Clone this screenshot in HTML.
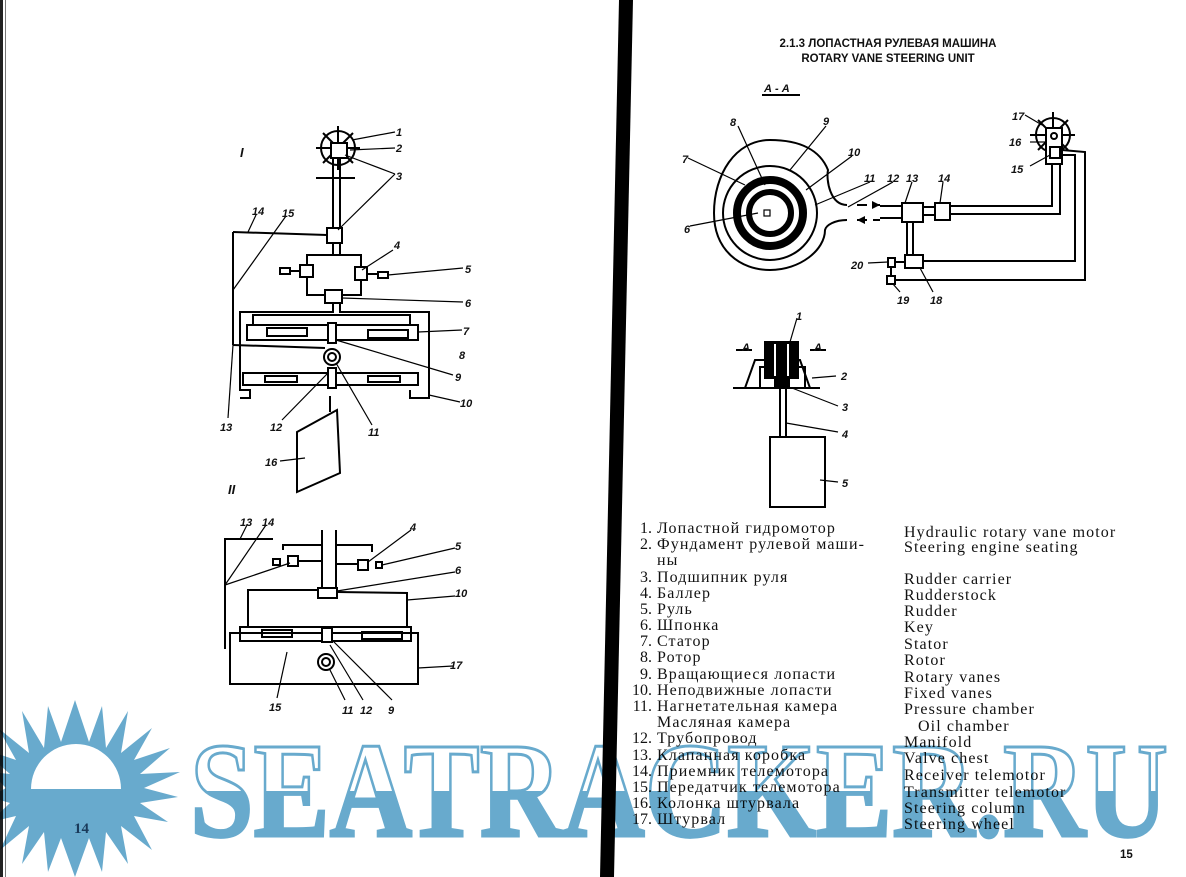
<!DOCTYPE html>
<html><head><meta charset="utf-8"><style>
html,body{margin:0;padding:0;background:#fff;}
svg{display:block}
.l{font-family:"Liberation Sans",sans-serif;font-style:italic;font-weight:bold;font-size:11px;fill:#111}
.t{font-family:"Liberation Serif","Noto Serif CJK SC",serif;font-size:16px;letter-spacing:1.1px;fill:#111}
.h{font-family:"Liberation Sans",sans-serif;font-weight:bold;font-size:11.5px;fill:#111}
.wm{mix-blend-mode:multiply}
</style></head><body>
<svg width="1186" height="877" viewBox="0 0 1186 877" xmlns="http://www.w3.org/2000/svg">
<defs>
<linearGradient id="wm" x1="0" y1="0" x2="0" y2="1">
<stop offset="0" stop-color="#fff"/><stop offset="0.5" stop-color="#fff"/><stop offset="0.5" stop-color="#68aacd"/><stop offset="1" stop-color="#68aacd"/>
</linearGradient>
</defs>
<rect width="1186" height="877" fill="#fff"/>
<!-- left scan edge -->
<rect x="0" y="0" width="3" height="877" fill="#222"/>
<rect x="5" y="0" width="1" height="877" fill="#777"/>
<!-- spine -->
<polygon points="619,0 633,0 614,877 600,877" fill="#000"/>

<g stroke="#000" stroke-width="2" fill="none">
<!-- Diagram I -->
<circle cx="338" cy="148" r="17"/>
<line x1="338" y1="126" x2="338" y2="170"/><line x1="316" y1="148" x2="360" y2="148"/>
<line x1="323" y1="133" x2="353" y2="163"/><line x1="353" y1="133" x2="323" y2="163"/>
<rect x="331" y="143" width="16" height="15" fill="#fff"/>
<line x1="333" y1="158" x2="333" y2="228"/><line x1="340" y1="158" x2="340" y2="228"/>
<line x1="316" y1="178" x2="355" y2="178"/>
<rect x="327" y="228" width="15" height="15"/>
<line x1="333" y1="243" x2="333" y2="255"/><line x1="340" y1="243" x2="340" y2="255"/>
<rect x="307" y="255" width="54" height="40"/>
<rect x="300" y="265" width="13" height="12" fill="#fff"/><rect x="280" y="268" width="10" height="6"/>
<line x1="290" y1="271" x2="300" y2="271"/>
<rect x="355" y="267" width="12" height="13" fill="#fff"/><rect x="378" y="272" width="10" height="6"/>
<line x1="367" y1="274" x2="378" y2="274"/>
<rect x="325" y="290" width="17" height="13" fill="#fff"/>
<line x1="233" y1="232" x2="327" y2="235"/><line x1="233" y1="232" x2="233" y2="345"/>
<line x1="233" y1="345" x2="325" y2="348"/>
<polyline points="333,303 333,312 240,312 240,390 250,390 250,398 240,398"/>
<polyline points="340,303 340,312 429,312 429,398 410,398 410,390"/>
<polyline points="253,325 253,315 410,315 410,325"/>
<rect x="247" y="325" width="171" height="15"/>
<rect x="267" y="328" width="40" height="8"/><rect x="368" y="330" width="40" height="8"/>
<rect x="328" y="323" width="8" height="20" fill="#fff"/>
<circle cx="332" cy="357" r="8"/><circle cx="332" cy="357" r="4"/>
<rect x="243" y="373" width="175" height="12"/>
<rect x="265" y="376" width="32" height="6"/><rect x="368" y="376" width="32" height="6"/>
<rect x="328" y="368" width="8" height="20" fill="#fff"/>
<polygon points="297,432 337,410 340,473 297,492"/>
<line x1="330" y1="396" x2="330" y2="412"/>
<g stroke-width="1.2">
<line x1="352" y1="140" x2="395" y2="132"/><line x1="350" y1="150" x2="395" y2="148"/>
<line x1="345" y1="155" x2="395" y2="174"/><line x1="338" y1="230" x2="395" y2="174"/>
<line x1="362" y1="270" x2="393" y2="250"/><line x1="388" y1="275" x2="463" y2="268"/>
<line x1="342" y1="298" x2="463" y2="302"/><line x1="418" y1="332" x2="462" y2="330"/>
<line x1="336" y1="340" x2="453" y2="375"/><line x1="429" y1="395" x2="460" y2="402"/>
<line x1="336" y1="363" x2="372" y2="425"/><line x1="328" y1="373" x2="282" y2="420"/>
<line x1="233" y1="345" x2="228" y2="418"/><line x1="248" y1="232" x2="256" y2="215"/>
<line x1="233" y1="290" x2="286" y2="216"/><line x1="280" y1="461" x2="305" y2="458"/>
</g>
<!-- Diagram II -->
<polyline points="273,539 225,539 225,649"/>
<polyline points="283,550 283,545 322,545"/><polyline points="336,545 372,545 372,552"/>
<line x1="322" y1="530" x2="322" y2="590"/><line x1="336" y1="530" x2="336" y2="590"/>
<line x1="299" y1="561" x2="322" y2="561"/><line x1="336" y1="564" x2="358" y2="564"/>
<rect x="288" y="556" width="10" height="10" fill="#fff"/><rect x="273" y="559" width="7" height="6"/>
<rect x="358" y="560" width="10" height="10" fill="#fff"/><rect x="376" y="562" width="6" height="6"/>
<rect x="318" y="588" width="19" height="10" fill="#fff"/>
<polyline points="248,627 248,590 318,590"/><polyline points="337,592 407,593 407,627"/>
<rect x="240" y="627" width="171" height="14"/>
<rect x="262" y="630" width="30" height="7"/><rect x="362" y="632" width="40" height="7"/>
<rect x="230" y="633" width="188" height="51"/>
<rect x="322" y="628" width="10" height="14" fill="#fff"/>
<circle cx="326" cy="662" r="8"/><circle cx="326" cy="662" r="4"/>
<g stroke-width="1.2">
<line x1="225" y1="585" x2="290" y2="563"/><line x1="225" y1="585" x2="266" y2="525"/>
<line x1="240" y1="539" x2="247" y2="525"/><line x1="368" y1="562" x2="411" y2="530"/>
<line x1="382" y1="565" x2="455" y2="548"/><line x1="337" y1="591" x2="455" y2="572"/>
<line x1="407" y1="600" x2="455" y2="596"/><line x1="418" y1="668" x2="453" y2="666"/>
<line x1="287" y1="652" x2="277" y2="698"/><line x1="330" y1="670" x2="345" y2="700"/>
<line x1="330" y1="645" x2="363" y2="700"/><line x1="332" y1="640" x2="392" y2="700"/>
</g>
<!-- Right top diagram -->
<line x1="762" y1="95" x2="800" y2="95"/>
<path d="M847,205 C830,205 826,180 828,170 C820,150 800,140 770,140 C735,140 714,175 714,213 C714,250 740,270 770,270 C800,270 825,250 825,230 C826,225 835,220 847,220"/>
<circle cx="770" cy="213" r="47"/>
<circle cx="770" cy="213" r="33" stroke="#000" stroke-width="8"/>
<circle cx="770" cy="213" r="21" stroke="#000" stroke-width="6"/>
<rect x="764" y="210" width="6" height="6" fill="#fff" stroke-width="1.2"/>
<line x1="857" y1="205" x2="880" y2="205" stroke-dasharray="10,6"/><line x1="857" y1="220" x2="880" y2="220" stroke-dasharray="10,6"/>
<rect x="902" y="203" width="21" height="19"/><rect x="935" y="203" width="15" height="17"/>
<line x1="880" y1="206" x2="902" y2="206"/><line x1="880" y1="218" x2="902" y2="218"/>
<line x1="923" y1="207" x2="935" y2="207"/><line x1="923" y1="215" x2="935" y2="215"/>
<polyline points="950,206 1052,206 1052,163"/><polyline points="950,214 1060,214 1060,163"/>
<circle cx="1053" cy="135" r="17"/>
<line x1="1053" y1="112" x2="1053" y2="158"/><line x1="1030" y1="135" x2="1075" y2="135"/>
<line x1="1038" y1="120" x2="1068" y2="150"/><line x1="1068" y1="120" x2="1038" y2="150"/>
<rect x="1046" y="128" width="16" height="36" fill="#fff"/>
<circle cx="1054" cy="136" r="3"/><rect x="1050" y="147" width="10" height="11"/>
<line x1="907" y1="222" x2="907" y2="255"/><line x1="913" y1="222" x2="913" y2="255"/>
<rect x="905" y="255" width="18" height="13"/>
<polyline points="923,261 1075,261 1075,155 1062,155"/>
<polyline points="895,280 1085,280 1085,152 1062,150"/>
<rect x="888" y="258" width="7" height="9"/><line x1="895" y1="262" x2="905" y2="262"/>
<line x1="891" y1="267" x2="891" y2="276"/>
<rect x="887" y="276" width="8" height="8"/>
<g stroke-width="1.2">
<line x1="688" y1="158" x2="745" y2="185"/><line x1="738" y1="126" x2="765" y2="185"/>
<line x1="826" y1="126" x2="790" y2="170"/><line x1="852" y1="156" x2="806" y2="190"/>
<line x1="870" y1="182" x2="815" y2="205"/><line x1="893" y1="182" x2="848" y2="207"/>
<line x1="690" y1="226" x2="758" y2="213"/><line x1="912" y1="182" x2="905" y2="203"/>
<line x1="943" y1="182" x2="940" y2="203"/><line x1="1025" y1="115" x2="1042" y2="125"/>
<line x1="1030" y1="142" x2="1046" y2="142"/><line x1="1030" y1="166" x2="1050" y2="155"/>
<line x1="868" y1="263" x2="888" y2="262"/><line x1="900" y1="292" x2="893" y2="284"/>
<line x1="933" y1="292" x2="920" y2="268"/>
</g>
<!-- small diagram -->
<line x1="733" y1="388" x2="820" y2="388"/>
<polyline points="745,388 755,360 770,360"/><polyline points="810,388 800,360 795,360"/>
<polyline points="760,388 760,367 768,367"/><polyline points="805,388 805,367 797,367"/>
<rect x="765" y="342" width="33" height="36" fill="#000"/>
<line x1="775" y1="344" x2="775" y2="376" stroke="#fff" stroke-width="2"/>
<line x1="788" y1="344" x2="788" y2="376" stroke="#fff" stroke-width="2"/>
<rect x="775" y="380" width="14" height="6" fill="#000"/>
<line x1="780" y1="388" x2="780" y2="438"/><line x1="786" y1="388" x2="786" y2="438"/>
<rect x="770" y="437" width="55" height="70"/>
<line x1="736" y1="350" x2="752" y2="350"/><line x1="810" y1="350" x2="826" y2="350"/>
<g stroke-width="1.2">
<line x1="797" y1="318" x2="790" y2="342"/><line x1="812" y1="378" x2="836" y2="376"/>
<line x1="792" y1="388" x2="838" y2="406"/><line x1="786" y1="423" x2="838" y2="432"/>
<line x1="820" y1="480" x2="838" y2="482"/>
</g>
</g>
<polygon points="880,205 872,201 872,209" fill="#000"/><polygon points="857,220 865,216 865,224" fill="#000"/>

<g class="l">
<text x="396" y="136">1</text><text x="396" y="152">2</text><text x="396" y="180">3</text>
<text x="394" y="249">4</text><text x="465" y="273">5</text><text x="465" y="307">6</text>
<text x="463" y="335">7</text><text x="459" y="359">8</text><text x="455" y="381">9</text>
<text x="460" y="407">10</text><text x="368" y="436">11</text><text x="270" y="431">12</text>
<text x="220" y="431">13</text><text x="252" y="215">14</text><text x="282" y="217">15</text>
<text x="265" y="466">16</text><text x="240" y="157" font-size="13">I</text><text x="228" y="494" font-size="13">II</text>
<text x="240" y="526">13</text><text x="262" y="526">14</text><text x="410" y="531">4</text>
<text x="455" y="550">5</text><text x="455" y="574">6</text><text x="455" y="597">10</text>
<text x="450" y="669">17</text><text x="269" y="711">15</text><text x="342" y="714">11</text>
<text x="360" y="714">12</text><text x="388" y="714">9</text>
<text x="764" y="92">А - А</text>
<text x="730" y="126">8</text><text x="823" y="125">9</text><text x="848" y="156">10</text>
<text x="864" y="182">11</text><text x="887" y="182">12</text><text x="906" y="182">13</text>
<text x="938" y="182">14</text><text x="682" y="163">7</text><text x="684" y="233">6</text>
<text x="1012" y="120">17</text><text x="1009" y="146">16</text><text x="1011" y="173">15</text>
<text x="851" y="269">20</text><text x="897" y="304">19</text><text x="930" y="304">18</text>
<text x="796" y="320">1</text><text x="742" y="351">А</text><text x="814" y="351">А</text>
<text x="841" y="380">2</text><text x="842" y="411">3</text><text x="842" y="438">4</text>
<text x="842" y="487">5</text>
</g>
<text class="h" x="888" y="47" text-anchor="middle">2.1.3 ЛОПАСТНАЯ РУЛЕВАЯ МАШИНА</text>
<text class="h" x="888" y="62" text-anchor="middle">ROTARY VANE STEERING UNIT</text>
<g class="t">
<g text-anchor="end" style="letter-spacing:0">
<text x="652" y="533">1.</text><text x="652" y="549">2.</text><text x="652" y="582">3.</text>
<text x="652" y="598">4.</text><text x="652" y="614">5.</text><text x="652" y="630">6.</text>
<text x="652" y="646">7.</text><text x="652" y="662">8.</text><text x="652" y="679">9.</text>
<text x="652" y="695">10.</text><text x="652" y="711">11.</text><text x="652" y="743">12.</text>
<text x="652" y="760">13.</text><text x="652" y="776">14.</text><text x="652" y="792">15.</text>
<text x="652" y="808">16.</text><text x="652" y="824">17.</text>
</g>
<text x="657" y="533">Лопастной гидромотор</text>
<text x="657" y="549">Фундамент рулевой маши-</text>
<text x="657" y="565">ны</text>
<text x="657" y="582">Подшипник руля</text>
<text x="657" y="598">Баллер</text>
<text x="657" y="614">Руль</text>
<text x="657" y="630">Шпонка</text>
<text x="657" y="646">Статор</text>
<text x="657" y="662">Ротор</text>
<text x="657" y="679">Вращающиеся лопасти</text>
<text x="657" y="695">Неподвижные лопасти</text>
<text x="657" y="711">Нагнетательная камера</text>
<text x="657" y="727">Масляная камера</text>
<text x="657" y="743">Трубопровод</text>
<text x="657" y="760">Клапанная коробка</text>
<text x="657" y="776">Приемник телемотора</text>
<text x="657" y="792">Передатчик телемотора</text>
<text x="657" y="808">Колонка штурвала</text>
<text x="657" y="824">Штурвал</text>
<text x="904" y="537">Hydraulic rotary vane motor</text>
<text x="904" y="552">Steering engine seating</text>
<text x="904" y="584">Rudder carrier</text>
<text x="904" y="600">Rudderstock</text>
<text x="904" y="616">Rudder</text>
<text x="904" y="632">Key</text>
<text x="904" y="649">Stator</text>
<text x="904" y="665">Rotor</text>
<text x="904" y="682">Rotary vanes</text>
<text x="904" y="698">Fixed vanes</text>
<text x="904" y="714">Pressure chamber</text>
<text x="918" y="731">Oil chamber</text>
<text x="904" y="747">Manifold</text>
<text x="904" y="763">Valve chest</text>
<text x="904" y="780">Receiver telemotor</text>
<text x="904" y="797">Transmitter telemotor</text>
<text x="904" y="813">Steering column</text>
<text x="904" y="829">Steering wheel</text>
</g>
<text class="h" x="1120" y="858" font-size="13">15</text>

<g class="wm">
<polygon fill="#68aacd" points="
75,700 89,742 102,706 106,748 128,711 121,753 152,728 134,760 170,748 140,774 180,772 144,788 178,797 140,803 168,822 134,816 152,850 121,826 128,864 106,832 102,872 89,838 75,877 61,838 48,872 44,832 22,864 29,826 0,850 16,816 -10,822 10,803 -10,797 6,788 -10,772 10,774 -20,748 16,760 -2,728 29,753 22,711 44,748 48,706 61,742"/>
<path d="M31,789 A45,45 0 0 1 121,789 Z" fill="#fff"/>
<text x="190" y="836" font-family="Liberation Serif,serif" font-weight="bold" font-size="136" textLength="978" lengthAdjust="spacingAndGlyphs" fill="url(#wm)" stroke="#68aacd" stroke-width="3">SEATRACKER.RU</text>
</g>
<text x="74" y="833" font-family="Liberation Serif,serif" font-weight="bold" font-size="15" fill="#1a3a5a">14</text>
</svg>
</body></html>
